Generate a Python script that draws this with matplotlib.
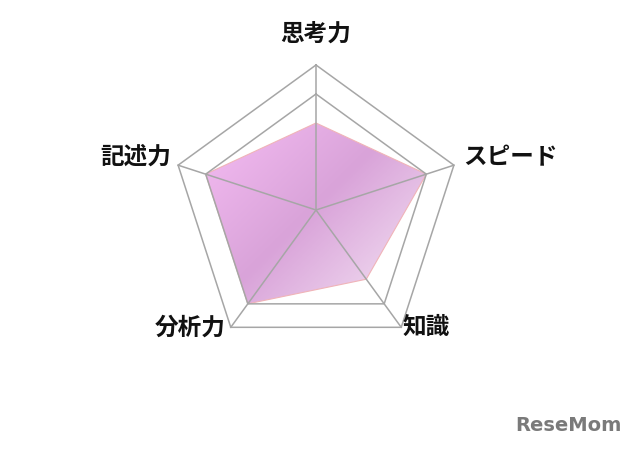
import numpy as np
import matplotlib
matplotlib.use("Agg")
import matplotlib.pyplot as plt
from matplotlib.colors import LinearSegmentedColormap
from matplotlib.patches import Polygon

plt.rcParams['font.family'] = ['Noto Sans CJK JP', 'DejaVu Sans']

labels = ['思考力', 'スピード', '知識', '分析力', '記述力']
values = [3.0, 4.0, 2.95, 4.0, 4.0]
grid_levels = [4, 5]
max_value = 5

# angles clockwise from the top
theta = np.arange(len(labels)) * 2 * np.pi / len(labels)
sx, sy = np.sin(theta), np.cos(theta)

fig = plt.figure(figsize=(6.4, 4.53), dpi=100)
ax = fig.add_axes([0, 0, 1, 1])
# centre at (316, 210) px, outer radius 145 px
scale = max_value / 145.0
ax.set_xlim(-316 * scale, (640 - 316) * scale)
ax.set_ylim(-(453 - 210) * scale, 210 * scale)
ax.set_aspect('equal')
ax.axis('off')

# grid pentagons and spokes
for lv in grid_levels:
    ax.plot(np.append(sx, sx[0]) * lv, np.append(sy, sy[0]) * lv,
            color='#a6a6a6', lw=1.1, zorder=3)
for x, y in zip(sx, sy):
    ax.plot([0, x * max_value], [0, y * max_value], color='#a6a6a6', lw=1.1, zorder=3)

# data polygon with a diagonal gradient
px = sx * np.array(values)
py = sy * np.array(values)
poly = Polygon(np.column_stack([px, py]), closed=True, facecolor='none',
               edgecolor='#f0b4b8', lw=0.8, zorder=2)
ax.add_patch(poly)

cmap = LinearSegmentedColormap.from_list(
    'radar', [(0.0, '#f5bcf3'), (0.48, '#d9a3d9'), (1.0, '#f6e8f6')])
x0, x1, y0, y1 = px.min(), px.max(), py.min(), py.max()
gx, gy = np.meshgrid(np.linspace(x0, x1, 200), np.linspace(y1, y0, 200))
t = (gx - gy)
t = (t - t.min()) / (t.max() - t.min())
img = ax.imshow(t, extent=[x0, x1, y0, y1], cmap=cmap, origin='upper',
                zorder=1, interpolation='bilinear', aspect='auto')
img.set_clip_path(poly)

# axis labels
offsets = [(0, 14), (7, 6), (1, 0), (-4, 0), (-5, 6)]
aligns = [('center', 'bottom'), ('left', 'center'), ('left', 'center'),
          ('right', 'center'), ('right', 'center')]
for lab, x, y, off, (ha, va) in zip(labels, sx, sy, offsets, aligns):
    ax.annotate(lab, (x * max_value, y * max_value), xytext=off,
                textcoords='offset points', ha=ha, va=va,
                fontsize=17, fontweight='bold', color='#111111')

# watermark
fig.text(0.972, 0.06, 'ReseMom', ha='right', va='center', fontsize=14,
         fontweight='bold', color='#7a7a7a', family='DejaVu Sans')

fig.savefig('out.png', dpi=100)
